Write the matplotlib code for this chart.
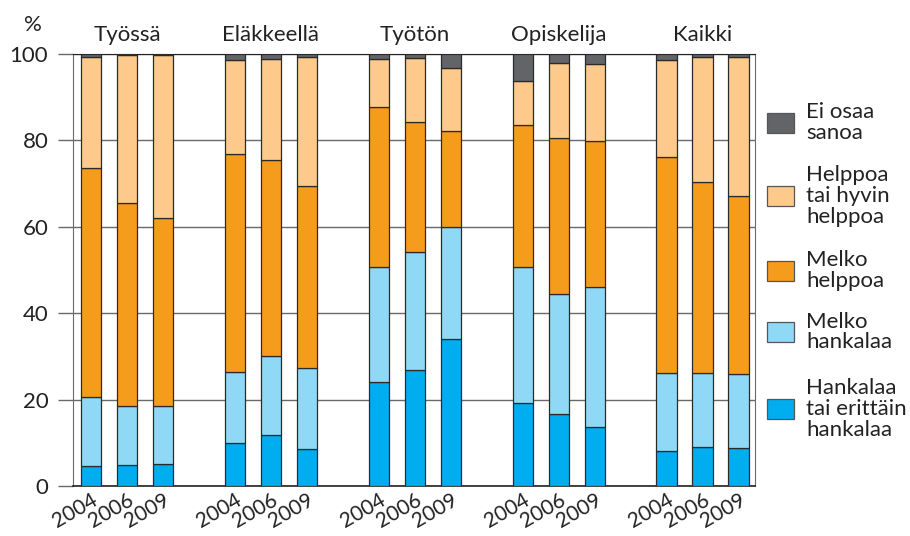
import matplotlib
matplotlib.use('Agg')
import matplotlib.pyplot as plt
from matplotlib.patches import Rectangle
import numpy as np

plt.rcParams['font.family'] = ['Lato', 'DejaVu Sans']

# Data (%)
groups = ['Työssä', 'Eläkkeellä', 'Työtön', 'Opiskelija', 'Kaikki']
years = ['2004', '2006', '2009']

hankalaa = [4.6, 4.9, 5.2, 9.9, 11.7, 8.6, 24.1, 26.9, 34.0, 19.3, 16.7, 13.6, 8.2, 9.0, 8.7]
melko_hankalaa = [15.9, 13.7, 13.3, 16.4, 18.4, 18.6, 26.7, 27.2, 25.9, 31.5, 27.7, 32.5, 17.9, 17.1, 17.3]
melko_helppoa = [53.1, 46.8, 43.5, 50.6, 45.3, 42.3, 37.0, 30.2, 22.3, 32.7, 36.2, 33.8, 50.1, 44.3, 41.1]
helppoa = [25.6, 34.3, 37.8, 21.6, 23.5, 29.9, 11.0, 14.7, 14.5, 10.3, 17.4, 17.9, 22.3, 28.8, 32.1]
ei_osaa = [0.8, 0.3, 0.2, 1.5, 1.1, 0.6, 1.2, 1.0, 3.3, 6.2, 2.0, 2.2, 1.5, 0.8, 0.8]

series = [
    ('Hankalaa\ntai erittäin\nhankalaa', hankalaa, '#00aeef'),
    ('Melko\nhankalaa', melko_hankalaa, '#8fd8f6'),
    ('Melko\nhelppoa', melko_helppoa, '#f59c1d'),
    ('Helppoa\ntai hyvin\nhelppoa', helppoa, '#fdca8b'),
    ('Ei osaa\nsanoa', ei_osaa, '#636468'),
]

W, H = 910, 536
FS = 16
fig = plt.figure(figsize=(W / 100, H / 100), dpi=100)
ax = fig.add_axes([73 / W, 50 / H, (755 - 73) / W, (486 - 54) / H])

x = np.array([4 * g + i for g in range(len(groups)) for i in range(len(years))], dtype=float)

bottom = np.zeros(len(x))
for name, vals, col in series:
    vals = np.array(vals)
    ax.bar(x, vals, width=0.575, bottom=bottom, color=col,
           edgecolor='#2a2a2a', linewidth=0.9, zorder=3)
    bottom += vals

ax.set_xlim(-0.5, 18.45)
ax.set_ylim(0, 100)
ax.set_yticks([0, 20, 40, 60, 80, 100])
ax.yaxis.grid(True, color='#6a6a6a', linewidth=1.0, zorder=0)
ax.tick_params(axis='y', length=10.8, width=1.0, color='#6a6a6a', pad=7,
               labelsize=FS, labelcolor='#222222')

ax.set_xticks(x)
ax.set_xticklabels(years * len(groups), rotation=30, ha='right',
                   rotation_mode='anchor', fontsize=15, color='#222222')
ax.tick_params(axis='x', length=0, pad=3)

for side in ['left', 'right']:
    ax.spines[side].set_color('#6a6a6a')
ax.spines['top'].set_color('#222222')
ax.spines['bottom'].set_color('#222222')
ax.spines['bottom'].set_linewidth(1.2)

for g, name in enumerate(groups):
    ax.text(4 * g + 1, 1.02, name, transform=ax.get_xaxis_transform(),
            ha='center', va='bottom', fontsize=FS, color='#222222')

fig.text(33 / W, 1 - 25 / H, '%', ha='center', va='center', fontsize=FS, color='#222222')

# legend drawn by hand on the right
leg_y = [122.7, 196, 270.7, 332, 409]
for (name, vals, col), yc in zip(series[::-1], leg_y):
    fig.patches.append(Rectangle((767 / W, 1 - (yc + 10) / H), 27 / W, 20 / H,
                                 transform=fig.transFigure, facecolor=col,
                                 edgecolor='#555555', linewidth=0.9))
    fig.text(806 / W, 1 - yc / H, name, ha='left', va='center', fontsize=FS,
             color='#222222', linespacing=1.05)

fig.savefig('out.png', dpi=100)
